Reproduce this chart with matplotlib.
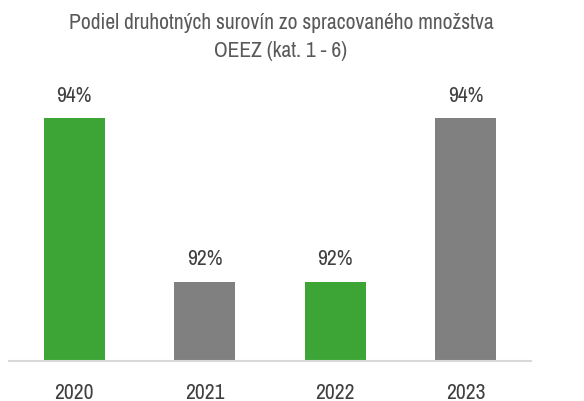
import matplotlib
matplotlib.use("Agg")
import matplotlib.pyplot as plt
from matplotlib import font_manager

years = ["2020", "2021", "2022", "2023"]
values = [94, 92, 92, 94]
labels = ["94%", "92%", "92%", "94%"]
colors = ["#3ca535", "#808080", "#3ca535", "#808080"]
title = "Podiel druhotných surovín zo spracovaného množstva\nOEEZ (kat. 1 - 6)"

names = {f.name for f in font_manager.fontManager.ttflist}
fam = "Liberation Sans"
for cand in ["Liberation Sans Narrow", "Archivo Narrow", "Roboto Condensed", "PT Sans Narrow"]:
    if cand in names:
        fam = cand
        break
plt.rcParams["font.family"] = [fam, "DejaVu Sans"]

fig = plt.figure(figsize=(5.84, 4.02), dpi=100)
ax = fig.add_axes([9/584, 1 - 362/402, 522/584, (362 - 62)/402])
x = range(len(years))
bars = ax.bar(x, values, width=0.467, color=colors, zorder=2)
ax.set_ylim(91.03, 94 + (119 - 62) / 81.5)
ax.set_xlim(-0.5, 3.5)
for b, lab in zip(bars, labels):
    ax.annotate(lab, (b.get_x() + b.get_width() / 2, b.get_height()),
                xytext=(0, 12.5), textcoords="offset points", ha="center", va="baseline",
                fontsize=15.5, color="#404040")
ax.set_xticks(list(x))
ax.set_xticklabels(years, fontsize=15.5, color="#404040")
ax.tick_params(axis="x", length=0, pad=15)
ax.set_yticks([])
for s in ["top", "right", "left"]:
    ax.spines[s].set_visible(False)
ax.spines["bottom"].set_color("#d9d9d9")
ax.spines["bottom"].set_linewidth(1.5)
fig.text(281/584, 1 - 29/402, title.split("\n")[0], ha="center", va="baseline", fontsize=15.5,
         color="#595959")
fig.text(281/584, 1 - 57/402, title.split("\n")[1], ha="center", va="baseline", fontsize=15.5,
         color="#595959")
fig.savefig("out.png", dpi=100)
